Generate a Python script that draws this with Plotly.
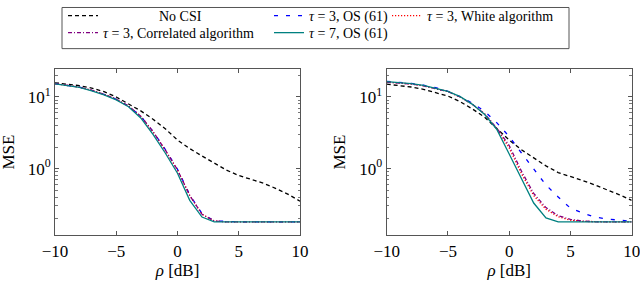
import plotly.graph_objects as go

rho = list(range(-10, 11))

# Left panel
left_no_csi = [15.8, 15.2, 14.4, 13.3, 11.9, 10.0, 8.1, 6.4, 4.9, 3.6, 2.5, 1.9, 1.5, 1.2, 0.95, 0.80, 0.71, 0.625, 0.53, 0.44, 0.35]
left_os3 = [15.4, 14.7, 13.7, 12.4, 10.9, 9.3, 7.5, 5.4, 3.3, 1.85, 0.98, 0.43, 0.235, 0.186, 0.181, 0.18, 0.18, 0.18, 0.18, 0.18, 0.18]
left_white = [15.4, 14.7, 13.7, 12.4, 10.9, 9.3, 7.5, 5.35, 3.25, 1.8, 0.95, 0.42, 0.23, 0.185, 0.18, 0.18, 0.18, 0.18, 0.18, 0.18, 0.18]
left_corr = [15.4, 14.7, 13.7, 12.4, 10.9, 9.3, 7.5, 5.4, 3.3, 1.82, 0.96, 0.42, 0.23, 0.185, 0.18, 0.18, 0.18, 0.18, 0.18, 0.18, 0.18]
left_os7 = [15.3, 14.6, 13.6, 12.2, 10.7, 9.1, 7.3, 5.1, 3.0, 1.65, 0.86, 0.36, 0.21, 0.18, 0.18, 0.18, 0.18, 0.18, 0.18, 0.18, 0.18]

# Right panel
right_no_csi = [15.1, 14.6, 13.8, 12.8, 11.6, 10.3, 8.6, 6.8, 5.2, 3.6, 2.5, 1.83, 1.41, 1.09, 0.88, 0.78, 0.68, 0.59, 0.51, 0.43, 0.36]
right_os3 = [16.5, 16.1, 15.5, 14.6, 13.5, 12.0, 10.1, 8.2, 6.3, 4.35, 2.8, 1.65, 1.0, 0.59, 0.40, 0.28, 0.24, 0.21, 0.197, 0.188, 0.183]
right_white = [16.1, 15.8, 15.2, 14.3, 13.2, 11.9, 10.0, 7.9, 5.8, 3.6, 1.95, 0.85, 0.42, 0.27, 0.212, 0.19, 0.183, 0.18, 0.18, 0.18, 0.18]
right_corr = [16.1, 15.8, 15.2, 14.3, 13.2, 11.9, 10.0, 7.9, 5.8, 3.65, 2.1, 0.92, 0.45, 0.285, 0.22, 0.195, 0.185, 0.18, 0.18, 0.18, 0.18]
right_os7 = [16.4, 16.0, 15.4, 14.5, 13.3, 12.0, 10.1, 7.9, 5.7, 3.5, 1.6, 0.72, 0.33, 0.205, 0.18, 0.18, 0.18, 0.18, 0.18, 0.18, 0.18]

names = ["\u00a0" * 16 + "No CSI", "<i>τ</i> = 3, OS (61)", "<i>τ</i> = 3, White algorithm",
         "<i>τ</i> = 3, Correlated algorithm", "<i>τ</i> = 7, OS (61)"]
colors = ["black", "rgb(0,0,255)", "rgb(255,0,0)", "rgb(128,0,128)", "rgb(0,128,128)"]
dashes = ["4px,3px", "4px,8px", "1.2px,1.8px", "4px,2px,1px,2px", "solid"]
legend_ids = ["legend", "legend3", "legend5", "legend2", "legend4"]

FONT = "Liberation Serif, Times New Roman, Times, serif"
W, H = 640, 282

fig = go.Figure()
panels = [
    ("x", "y", [left_no_csi, left_os3, left_white, left_corr, left_os7], True),
    ("x2", "y2", [right_no_csi, right_os3, right_white, right_corr, right_os7], False),
]
for xa, ya, series, show in panels:
    for i, vals in enumerate(series):
        fig.add_trace(go.Scatter(
            x=rho, y=vals, xaxis=xa, yaxis=ya, mode="lines", name=names[i],
            line=dict(color=colors[i], width=1.3, dash=dashes[i]),
            showlegend=show, legend=legend_ids[i],
        ))

# plot areas in pixels
px_left = (55, 300)
px_right = (386.7, 631.7)
py_top, py_bot = 63.3, 234.3

ydom = [1 - py_bot / H, 1 - py_top / H]
axis_common = dict(
    showline=True, mirror="allticks", linecolor="#555", linewidth=1,
    ticks="inside", tickcolor="#555", ticklen=4, tickwidth=1,
    showgrid=False, zeroline=False, automargin=False, ticklabeloverflow="allow",
    tickfont=dict(family=FONT, size=17, color="black"),
)
xaxis_common = dict(axis_common, range=[-10, 10], tickvals=[-10, -5, 0, 5, 10],
                    title=dict(text="<i>ρ</i> [dB]", font=dict(family=FONT, size=17, color="black"), standoff=2))
minor_vals = [0.2, 0.3, 0.4, 0.5, 0.6, 0.7, 0.8, 0.9, 2, 3, 4, 5, 6, 7, 8, 9, 20]
yaxis_common = dict(axis_common, type="log", range=[-0.935, 1.395],
                    tickvals=[1, 10], ticktext=["10<sup>0</sup>", "10<sup>1</sup>"],
                    minor=dict(tickvals=minor_vals, ticks="inside", ticklen=2.5, tickcolor="#777", tickwidth=0.8, showgrid=False),
                    domain=ydom)

fig.update_layout(
    width=W, height=H, margin=dict(l=0, r=0, t=0, b=0),
    paper_bgcolor="white", plot_bgcolor="white",
    font=dict(family=FONT, size=14, color="black"),
    xaxis=dict(xaxis_common, domain=[px_left[0] / W, px_left[1] / W], anchor="y"),
    yaxis=dict(yaxis_common, anchor="x"),
    xaxis2=dict(xaxis_common, domain=[px_right[0] / W, px_right[1] / W], anchor="y2"),
    yaxis2=dict(yaxis_common, anchor="x2"),
)

# y-axis titles
for xpix in (8.5, 339.5):
    fig.add_annotation(text="MSE", xref="paper", yref="paper",
                       x=xpix / W, y=1 - ((py_top + py_bot) / 2) / H,
                       xanchor="center", yanchor="middle", textangle=-90, showarrow=False,
                       font=dict(family=FONT, size=17, color="black"))

# legends: one per entry, positioned like the reference's 3-column layout
legend_pos = {
    "legend": (63, 9.0),
    "legend2": (63, 26.7),
    "legend3": (269, 9.0),
    "legend4": (269, 26.7),
    "legend5": (387, 9.0),
}
for lid, (lx, ly) in legend_pos.items():
    fig.update_layout({lid: dict(
        x=lx / W, y=1 - ly / H, xanchor="left", yanchor="middle",
        xref="paper", yref="paper", bgcolor="rgba(0,0,0,0)", borderwidth=0,
        font=dict(family=FONT, size=14, color="black"), itemwidth=30,
        orientation="v", tracegroupgap=0,
    )})

fig.add_shape(type="rect", xref="paper", yref="paper",
              x0=62 / W, x1=569 / W, y0=1 - 42.7 / H, y1=1 - 0.5 / H,
              line=dict(color="#555", width=1), fillcolor="rgba(0,0,0,0)")

fig.write_html("out.html", config={"displayModeBar": False},
               post_script="document.body.style.margin='0';")
